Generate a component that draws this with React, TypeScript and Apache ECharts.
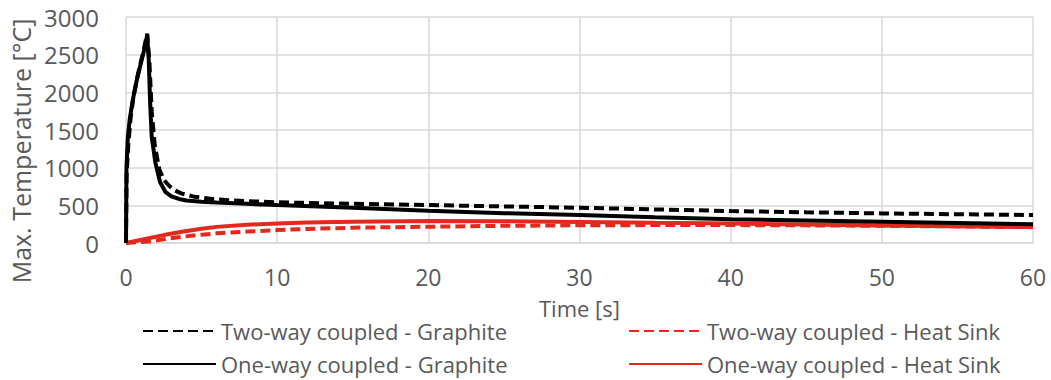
import { useEffect, useRef } from "react";
import * as echarts from "echarts";

const seriesNames = [
  "Two-way coupled - Graphite",
  "One-way coupled - Graphite",
  "Two-way coupled - Heat Sink",
  "One-way coupled - Heat Sink",
];

const xTicks = [0, 10, 20, 30, 40, 50, 60];
const yTicks = [0, 500, 1000, 1500, 2000, 2500, 3000];

// [time s, max temperature °C]
const twoWayGraphite: [number, number][] = [
  [0, 0], [0.04, 900], [0.15, 1300], [0.3, 1650], [0.5, 1950], [0.8, 2250],
  [1.1, 2500], [1.4, 2780], [1.55, 2400], [1.7, 1750], [1.9, 1300], [2.2, 980],
  [2.5, 840], [2.85, 760], [3.2, 700], [3.7, 655], [4.5, 615], [6, 578],
  [8, 556], [10, 540], [15, 520], [20, 503], [25, 486], [30, 468], [35, 446],
  [40, 424], [45, 408], [50, 393], [55, 382], [60, 371],
];

const oneWayGraphite: [number, number][] = [
  [0, 0], [0.03, 1000], [0.12, 1400], [0.25, 1650], [0.45, 1900], [0.7, 2150],
  [1.0, 2400], [1.25, 2600], [1.4, 2760], [1.5, 2450], [1.6, 1850], [1.7, 1410],
  [1.95, 1060], [2.25, 810], [2.6, 680], [3.0, 620], [3.5, 585], [4.0, 565],
  [5, 547], [6, 536], [8, 520], [10, 503], [15, 468], [20, 428], [25, 396],
  [30, 371], [35, 342], [40, 315], [45, 298], [50, 282], [55, 265], [60, 248],
];

const twoWayHeatSink: [number, number][] = [
  [0, 0], [1.5, 20], [2.5, 50], [3.7, 83], [5, 110], [6, 128], [8, 152],
  [10, 172], [12, 186], [15, 203], [20, 216], [25, 228], [30, 235], [35, 238],
  [40, 238], [45, 234], [50, 228], [55, 220], [60, 210],
];

const oneWayHeatSink: [number, number][] = [
  [0, 0], [1.5, 62], [2.5, 105], [3.7, 150], [5, 190], [6, 214], [8, 243],
  [10, 260], [12, 272], [15, 283], [20, 292], [25, 290], [30, 280], [35, 268],
  [40, 258], [45, 245], [50, 232], [55, 221], [60, 212],
];

const BLACK = "#000000";
const RED = "#e3291d";
const TEXT = "#595959";
const GRID = "#d9d9d9";
const FONT = "Open Sans";

export default function App() {
  const ref = useRef<HTMLDivElement>(null);
  useEffect(() => {
    document.body.style.margin = "0";
    const chart = echarts.init(ref.current!, null, { renderer: "svg" });
    const line = (name: string, data: [number, number][], color: string, dashed: boolean, z: number) => ({
      name,
      type: "line",
      data,
      symbol: "none",
      showSymbol: false,
      z,
      lineStyle: { color, width: 4, type: dashed ? [10, 5] : "solid", cap: "butt" },
      itemStyle: { color },
    });
    const legendItem = (name: string, left: number, top: number) => ({
      left,
      top,
      padding: 0,
      orient: "horizontal",
      itemWidth: 73,
      itemHeight: 14,
      itemGap: 10,
      data: [name],
      itemStyle: { opacity: 0 },
      textStyle: { fontSize: 22, color: TEXT, fontFamily: FONT, lineHeight: 24 },
    });
    chart.setOption({
      animation: false,
      backgroundColor: "#ffffff",
      grid: { left: 126, right: 18, top: 17, bottom: 137, containLabel: false },
      xAxis: {
        type: "value",
        min: xTicks[0],
        max: xTicks[xTicks.length - 1],
        interval: 10,
        name: "Time [s]",
        nameLocation: "middle",
        nameGap: 54,
        nameTextStyle: { fontSize: 22, color: TEXT, fontFamily: FONT, lineHeight: 22 },
        axisLine: { show: true, lineStyle: { color: GRID, width: 1.5 } },
        axisTick: { show: false },
        axisLabel: { fontSize: 23, color: TEXT, fontFamily: FONT, margin: 24, lineHeight: 20 },
        splitLine: { show: true, lineStyle: { color: GRID, width: 1.5 } },
      },
      yAxis: {
        type: "value",
        min: yTicks[0],
        max: yTicks[yTicks.length - 1],
        interval: 500,
        name: "Max. Temperature [°C]",
        nameLocation: "middle",
        nameRotate: 90,
        nameGap: 90,
        nameTextStyle: { fontSize: 25, color: TEXT, fontFamily: FONT, padding: [0, 42, 0, 0] },
        axisLine: { show: false },
        axisTick: { show: false },
        axisLabel: {
          fontSize: 24,
          color: TEXT,
          fontFamily: FONT,
          margin: 27,
          formatter: (v: number) => String(v),
        },
        splitLine: { show: true, lineStyle: { color: GRID, width: 1.5 } },
      },
      legend: [
        legendItem(seriesNames[0], 142, 319),
        legendItem(seriesNames[1], 142, 352),
        legendItem(seriesNames[2], 628, 319),
        legendItem(seriesNames[3], 628, 352),
      ],
      series: [
        line(seriesNames[3], oneWayHeatSink, RED, false, 2),
        line(seriesNames[2], twoWayHeatSink, RED, true, 3),
        line(seriesNames[1], oneWayGraphite, BLACK, false, 4),
        line(seriesNames[0], twoWayGraphite, BLACK, true, 5),
      ],
    });
    return () => chart.dispose();
  }, []);
  return <div ref={ref} style={{ width: 1051, height: 380 }} />;
}
